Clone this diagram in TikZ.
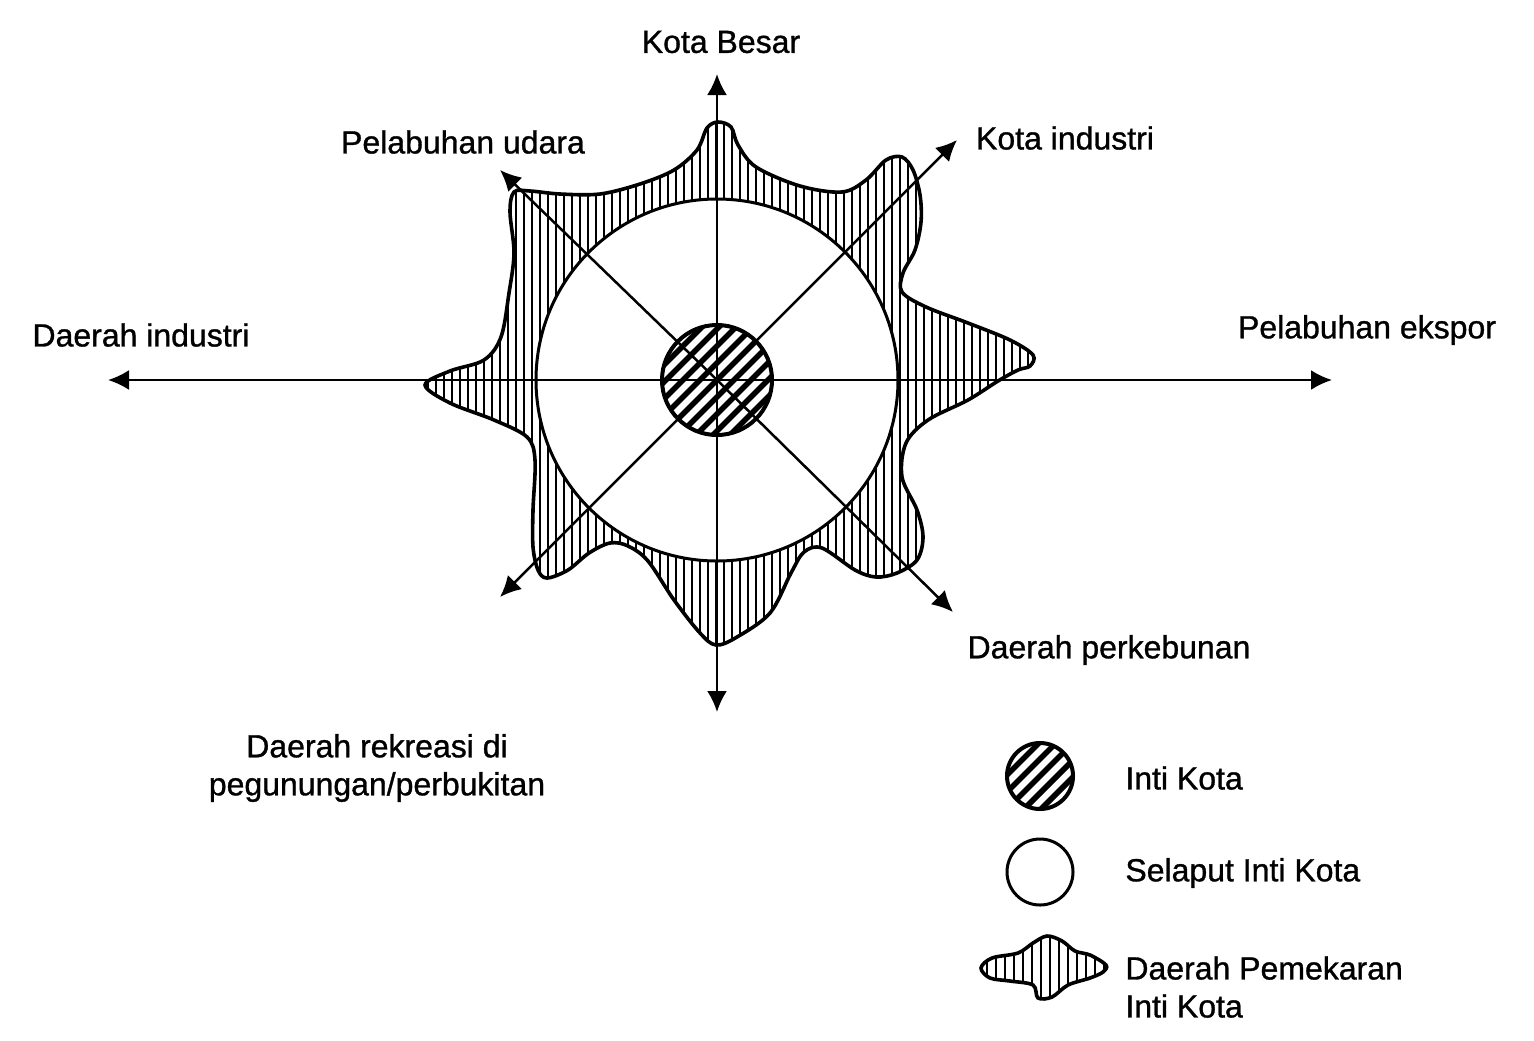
\documentclass[tikz,border=0pt]{standalone}
\usepackage{fontspec}
\setmainfont[FakeBold=1]{Liberation Sans}
\usetikzlibrary{arrows.meta,calc}
\begin{document}
\begin{tikzpicture}[x=0.5pt,y=-0.5pt,
  axis/.style={line width=1.25pt, -{Latex[length=10.5pt,width=10pt]}},
  lbl/.style={font=\fontsize{16}{19}\selectfont, inner sep=0pt},
  outl/.style={line width=1.8pt},
  vhatch/.style={line width=1.3pt},
  dhatch/.style={line width=2.8pt},
]
\useasboundingbox[fill=white] (0,0) rectangle (1534,1040);
\def\starpath{plot[smooth cycle, tension=0.55] coordinates {
(425,385) (450,371) (484,360) (501,337) (509,293) (514,253) (510,212) (514,192)
(530,191) (560,194) (600,194) (640,184) (674,170) (697,150) (707,128) (718,122)
(731,127) (738,145) (756,167) (800,186) (842,192) (866,180) (886,160) (902,157)
(913,170) (920,195) (921,222) (915,250) (903,273) (902,292) (926,307) (968,323)
(1010,340) (1033,355) (1030,366) (1018,370) (998,381) (968,400) (928,420) (906,443)
(902,477) (917,510) (923,537) (917,560) (897,573) (876,577) (855,570) (822,548)
(804,552) (791,573) (770,613) (737,637) (716,645) (700,633) (674,600) (648,561)
(628,546) (610,543) (589,553) (568,570) (547,578) (538,570) (533,547) (533,510)
(535,460) (527,437) (494,420) (450,403)}}
\def\legpath{plot[smooth cycle, tension=0.55] coordinates {
(981,968) (992,958) (1018,953) (1033,943) (1047,936) (1062,941) (1075,951) (1090,955)
(1106,965) (1103,972) (1090,978) (1068,985) (1052,997) (1038,998) (1033,985)
(1010,981) (990,978)}}
\coordinate (C) at (717,380);
% expansion zone
\begin{scope}
  \clip \starpath;
  \foreach \x in {420,428,...,1040} \draw[vhatch] (\x,110) -- (\x,660);
\end{scope}
\draw[outl] \starpath;
% selaput
\node[draw, circle, line width=1.5pt, fill=white, minimum size=181pt, inner sep=0pt] (selaput) at (C) {};
% core
\begin{scope}
  \clip (C) circle[radius=27.5pt];
  \foreach \i in {-9,...,9} \draw[dhatch] ($(C)+(\i*17-80,80)$) -- ++(160,-160);
\end{scope}
\node[draw, circle, line width=2pt, minimum size=55pt, inner sep=0pt] (inti) at (C) {};
% axes
\coordinate (N) at (717,74);
\coordinate (S) at (717,712);
\coordinate (W) at (108,380);
\coordinate (E) at (1332,380);
\coordinate (NE) at (957,140);
\coordinate (NW) at (500,170);
\coordinate (SW) at (500,597);
\coordinate (SE) at (953,612);
\foreach \t in {N,S,W,E,NE,NW,SW,SE} \draw[axis] (C) -- (\t);
% labels
\node[lbl] (kb) at (721,42) {Kota Besar};
\node[lbl] (pu) at (463,142) {Pelabuhan udara};
\node[lbl] (ki) at (1065,138) {Kota industri};
\node[lbl] (di) at (141,335) {Daerah industri};
\node[lbl] (pe) at (1367,330) {Pelabuhan ekspor};
\node[lbl] (dp) at (1109,650) {Daerah perkebunan};
\node[lbl, align=center] (dr) at (377,768) {Daerah rekreasi di\\pegunungan/perbukitan};
% legend
\begin{scope}
  \clip (1040,776) circle[radius=16.5pt];
  \foreach \i in {-5,...,5} \draw[dhatch] ($(1040,776)+(\i*17-50,50)$) -- ++(100,-100);
\end{scope}
\node[draw, circle, line width=2pt, minimum size=33pt, inner sep=0pt] (lg1) at (1040,776) {};
\node[draw, circle, line width=1.5pt, minimum size=33pt, inner sep=0pt] (lg2) at (1040,872) {};
\begin{scope}
  \clip \legpath;
  \foreach \x in {978,987,...,1110} \draw[vhatch] (\x,930) -- (\x,1002);
\end{scope}
\draw[outl] \legpath;
\node[lbl, anchor=west] (t1) at (1125,778) {Inti Kota};
\node[lbl, anchor=west] (t2) at (1125,873) {Selaput Inti Kota};
\node[lbl, anchor=west, align=left] (t3) at (1125,987) {Daerah Pemekaran\\Inti Kota};
\end{tikzpicture}
\end{document}
